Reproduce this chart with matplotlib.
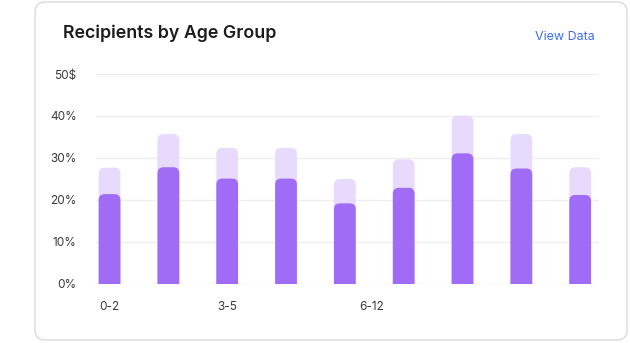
import matplotlib
matplotlib.use("Agg")
import matplotlib.pyplot as plt
from matplotlib.patches import FancyBboxPatch

# share of recipients per age bucket
groups = ["0-2", "", "3-5", "", "6-12", "", "", "", ""]
total_pct = [27.7, 35.7, 32.4, 32.4, 25.0, 29.7, 40.1, 35.7, 27.8]
share_pct = [21.4, 27.8, 25.1, 25.1, 19.2, 22.9, 31.1, 27.5, 21.2]
tick_labels = ["0-2", "3-5", "6-12"]
tick_slots = [0, 2, 4.45]
y_ticks = [0, 10, 20, 30, 40, 50]
y_labels = ["0%", "10%", "20%", "30%", "40%", "50$"]

W, H = 630, 343
DARK = "#a06cf5"
LIGHT = "#e7dafd"
TEXT = "#1c1c1c"

fig = plt.figure(figsize=(W / 100, H / 100), dpi=100)

# card background in pixel space
bg = fig.add_axes([0, 0, 1, 1])
bg.set_xlim(0, W)
bg.set_ylim(H, 0)
bg.axis("off")
card = FancyBboxPatch((35, 2), 592, 338, boxstyle="round,pad=0,rounding_size=10",
                      facecolor="white", edgecolor="#dadada", linewidth=1)
bg.add_patch(card)
bg.text(63, 33, "Recipients by Age Group", fontsize=12.8, fontweight="semibold",
        family="Inter", color=TEXT, va="center", ha="left")
bg.text(595, 37, "View Data", fontsize=9, family="Inter", color="#3a6df0",
        va="center", ha="right")

# plot area
x0, x1, y0, y1 = 96, 599, 74, 284
ax = fig.add_axes([x0 / W, 1 - y1 / H, (x1 - x0) / W, (y1 - y0) / H])
ax.set_xlim(-0.23, 8.32)
ax.set_ylim(0, 50)
for s in ax.spines.values():
    s.set_visible(False)
ax.set_yticks(y_ticks)
ax.set_yticklabels(y_labels)
ax.grid(axis="y", color="#efefef", linewidth=1)
ax.set_axisbelow(True)
ax.tick_params(axis="y", length=0, pad=14, labelsize=8.5, labelcolor="#3a3a3a")
ax.set_xticks(tick_slots)
ax.set_xticklabels(tick_labels)
ax.tick_params(axis="x", length=0, pad=12, labelsize=8.5, labelcolor="#3a3a3a")
for lbl in ax.get_xticklabels() + ax.get_yticklabels():
    lbl.set_family("Inter")

# rounded-top bars: draw with ax.bar, then swap for rounded patches
px_x = (x1 - x0) / (ax.get_xlim()[1] - ax.get_xlim()[0])
px_y = (y1 - y0) / 50
aspect = px_x / px_y
radius = 6 / px_x
xs = range(len(groups))
width = 0.37
for vals, color in [(total_pct, LIGHT), (share_pct, DARK)]:
    bars = ax.bar(xs, vals, width=width, color=color)
    for b in bars:
        bx, bw, bh = b.get_x(), b.get_width(), b.get_height()
        b.set_visible(False)
        p = FancyBboxPatch((bx, -3), bw, bh + 3,
                           boxstyle=f"round,pad=0,rounding_size={radius}",
                           mutation_aspect=aspect,
                           facecolor=color, edgecolor="none", zorder=3)
        ax.add_patch(p)

fig.savefig("out.png", dpi=100)
